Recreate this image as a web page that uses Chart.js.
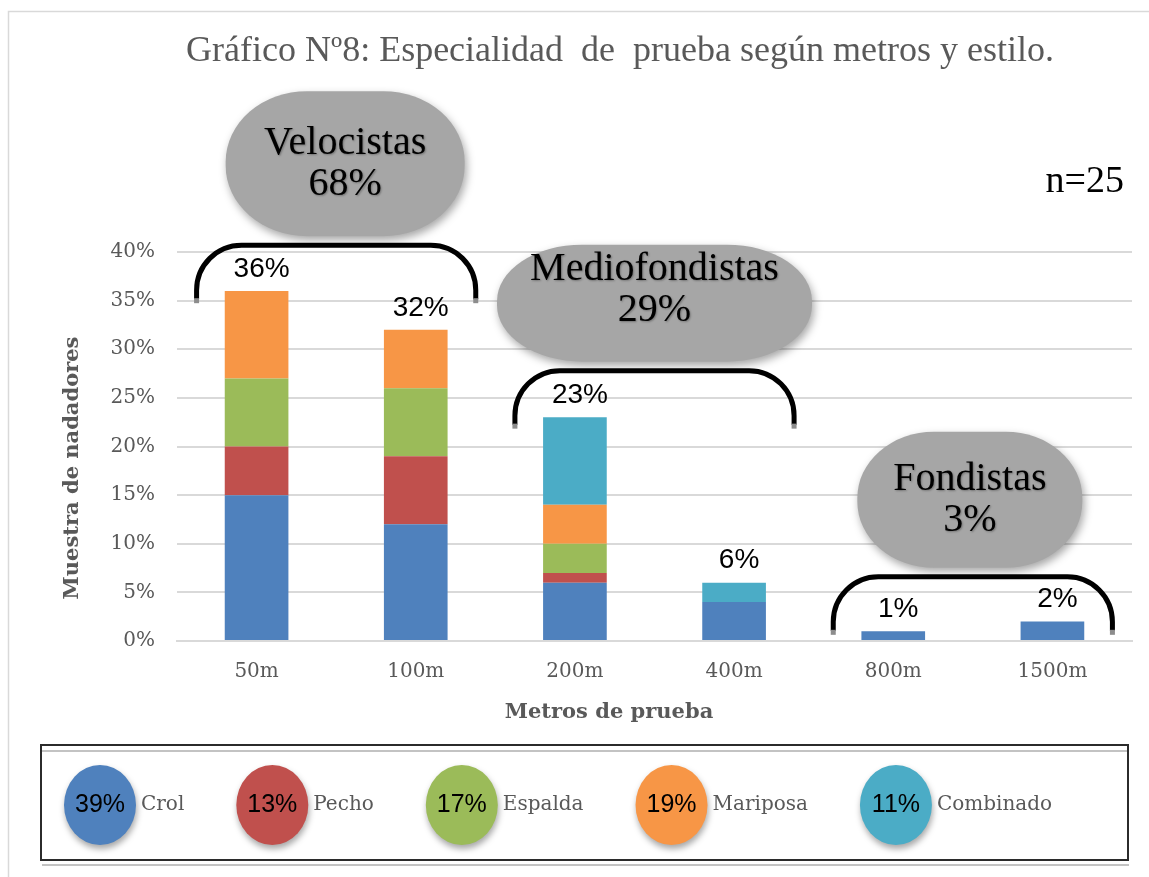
<!DOCTYPE html>
<html>
<head>
<meta charset="utf-8">
<script src="https://cdn.jsdelivr.net/npm/chart.js@4/dist/chart.umd.min.js"></script>
<style>
    html, body { margin: 0; padding: 0; background: #fff; }
    #wrap { width: 1149px; height: 877px; position: relative; }
</style>
</head>
<body>
<div id="wrap"><canvas id="chart" width="1149" height="877"></canvas></div>
<script>
// Data (values in %)
const categories = ['50m', '100m', '200m', '400m', '800m', '1500m'];
const crol = [15, 12, 6, 4, 1, 2];
const pecho = [5, 7, 1, 0, 0, 0];
const espalda = [7, 7, 3, 0, 0, 0];
const mariposa = [9, 6, 4, 0, 0, 0];
const combinado = [0, 0, 9, 2, 0, 0];

const styleNames = ['Crol', 'Pecho', 'Espalda', 'Mariposa', 'Combinado'];
const styleShares = ['39%', '13%', '17%', '19%', '11%'];
const styleColors = ['#4F81BD', '#C0504D', '#9BBB59', '#F79646', '#4BACC6'];

const groupNames = ['Velocistas', 'Mediofondistas', 'Fondistas'];
const groupShares = ['68%', '29%', '3%'];
const groupFirst = [0, 2, 4];
const groupLast = [1, 3, 5];
const groupBracketTop = [40.7, 27.8, 6.6];

const SERIF = "'DejaVu Serif', 'Liberation Serif', serif";
const SERIF_BIG = "'Liberation Serif', 'DejaVu Serif', serif";
const SANS = "'Liberation Sans', Arial, sans-serif";
const GREY_TEXT = '#595959';

const seriesValues = [crol, pecho, espalda, mariposa, combinado];
const totals = categories.map((c, i) => seriesValues.reduce((s, arr) => s + arr[i], 0));

// Draws the title, annotations, data labels and the legend box
const decorations = {
    id: 'decorations',
    afterDraw(chart) {
        const ctx = chart.ctx;
        const x = chart.scales.x;
        const y = chart.scales.y;
        ctx.save();

        // outer frame
        ctx.strokeStyle = '#d9d9d9';
        ctx.lineWidth = 1.5;
        ctx.strokeRect(8.5, 11.5, 1300, 1000);

        // title
        ctx.fillStyle = GREY_TEXT;
        ctx.font = '36px ' + SERIF_BIG;
        ctx.textAlign = 'center';
        ctx.textBaseline = 'alphabetic';
        ctx.fillText('Gráfico Nº8: Especialidad  de  prueba según metros y estilo.', 620, 61);

        // n=25
        ctx.fillStyle = '#000';
        ctx.font = '38px ' + SERIF_BIG;
        ctx.textAlign = 'right';
        ctx.fillText('n=25', 1124, 192);

        // axis titles
        ctx.fillStyle = GREY_TEXT;
        ctx.font = 'bold 21px ' + SERIF;
        ctx.textAlign = 'center';
        ctx.textBaseline = 'middle';
        ctx.fillText('Metros de prueba', 609, 713);
        ctx.save();
        ctx.translate(73, 468);
        ctx.rotate(-Math.PI / 2);
        ctx.fillText('Muestra de nadadores', 0, 0);
        ctx.restore();

        // total labels above the bars
        ctx.fillStyle = '#000';
        ctx.font = '28px ' + SANS;
        ctx.textBaseline = 'bottom';
        totals.forEach((t, i) => {
            ctx.fillText(t + '%', x.getPixelForValue(i) + 5, y.getPixelForValue(t) - 8);
        });

        // group brackets and grey bubbles
        const pillW = [239, 315, 225];
        const pillH = [145, 117, 136];
        const pillShift = [9, 0, -3];
        const textShift = [0, -13, 0];
        groupNames.forEach((name, g) => {
            const left = x.getPixelForValue(groupFirst[g]) - 60;
            const right = x.getPixelForValue(groupLast[g]) + 60;
            const top = y.getPixelForValue(groupBracketTop[g]);
            const bottom = top + 54;
            const r = 45;
            ctx.strokeStyle = '#000';
            ctx.lineWidth = 5;
            ctx.beginPath();
            ctx.moveTo(left, bottom);
            ctx.arcTo(left, top, left + r, top, r);
            ctx.arcTo(right, top, right, top + r, r);
            ctx.lineTo(right, bottom);
            ctx.stroke();
            ctx.fillStyle = '#8c8c8c';
            ctx.fillRect(left - 2.5, bottom - 1, 5, 5);
            ctx.fillRect(right - 2.5, bottom - 1, 5, 5);

            const cx = (left + right) / 2 + pillShift[g];
            const w = pillW[g], h = pillH[g];
            const pTop = top - 9 - h;
            const cy = pTop + h / 2;
            ctx.save();
            ctx.shadowColor = 'rgba(0,0,0,0.35)';
            ctx.shadowBlur = 8;
            ctx.shadowOffsetX = 2;
            ctx.shadowOffsetY = 4;
            ctx.fillStyle = '#A6A6A6';
            ctx.beginPath();
            ctx.roundRect(cx - w / 2, pTop, w, h, [{ x: Math.min(w * 0.34, 85), y: h / 2 - 2 }]);
            ctx.fill();
            ctx.restore();

            ctx.save();
            ctx.shadowColor = 'rgba(0,0,0,0.3)';
            ctx.shadowBlur = 2;
            ctx.shadowOffsetX = 1;
            ctx.shadowOffsetY = 1;
            ctx.fillStyle = '#000';
            ctx.font = '40px ' + SERIF_BIG;
            ctx.textAlign = 'center';
            ctx.textBaseline = 'alphabetic';
            ctx.fillText(name, cx, cy + textShift[g] - 10);
            ctx.fillText(groupShares[g], cx, cy + textShift[g] + 31);
            ctx.restore();
        });

        // legend box
        ctx.strokeStyle = '#2b2b2b';
        ctx.lineWidth = 2;
        ctx.strokeRect(41, 745, 1087, 115);
        ctx.strokeStyle = '#b0b0b0';
        ctx.lineWidth = 1.5;
        ctx.beginPath();
        ctx.moveTo(42, 751);
        ctx.lineTo(1127, 751);
        ctx.moveTo(42, 865);
        ctx.lineTo(1129, 865);
        ctx.stroke();

        let lx = 64;
        const ly = 805;
        styleNames.forEach((name, i) => {
            ctx.save();
            ctx.shadowColor = 'rgba(0,0,0,0.35)';
            ctx.shadowBlur = 6;
            ctx.shadowOffsetX = 1;
            ctx.shadowOffsetY = 4;
            ctx.fillStyle = styleColors[i];
            ctx.beginPath();
            ctx.ellipse(lx + 36, ly, 36, 40, 0, 0, Math.PI * 2);
            ctx.fill();
            ctx.restore();

            ctx.fillStyle = '#000';
            ctx.font = '25px ' + SANS;
            ctx.textAlign = 'center';
            ctx.textBaseline = 'middle';
            ctx.fillText(styleShares[i], lx + 36, ly);

            ctx.fillStyle = GREY_TEXT;
            ctx.font = '20px ' + SERIF;
            ctx.textAlign = 'left';
            ctx.fillText(name, lx + 77, ly);
            lx += 77 + ctx.measureText(name).width + 52;
        });

        ctx.restore();
    }
};

const datasets = styleNames.map((name, i) => ({
    label: name,
    data: seriesValues[i],
    backgroundColor: styleColors[i],
    borderWidth: 0,
    barPercentage: 1,
    categoryPercentage: 0.4
}));

new Chart(document.getElementById('chart'), {
    type: 'bar',
    data: { labels: categories, datasets: datasets },
    options: {
        responsive: false,
        animation: false,
        layout: { padding: { left: 0, right: 17, top: 252, bottom: 0 } },
        plugins: {
            legend: { display: false },
            title: { display: false },
            tooltip: { enabled: false }
        },
        scales: {
            x: {
                stacked: true,
                grid: { display: false, drawTicks: false },
                border: { display: true, color: '#d9d9d9', width: 2 },
                ticks: { color: GREY_TEXT, font: { family: SERIF, size: 20 }, padding: 19 },
                afterFit(scale) { scale.height = 236; }
            },
            y: {
                stacked: true,
                min: 0,
                max: 40,
                grid: { color: '#d9d9d9', lineWidth: 2, drawTicks: false },
                border: { display: false },
                ticks: {
                    stepSize: 5,
                    color: GREY_TEXT,
                    font: { family: SERIF, size: 20 },
                    padding: 22,
                    callback: v => v + '%'
                },
                afterFit(scale) { scale.width = 177; }
            }
        }
    },
    plugins: [decorations]
});
</script>
</body>
</html>
